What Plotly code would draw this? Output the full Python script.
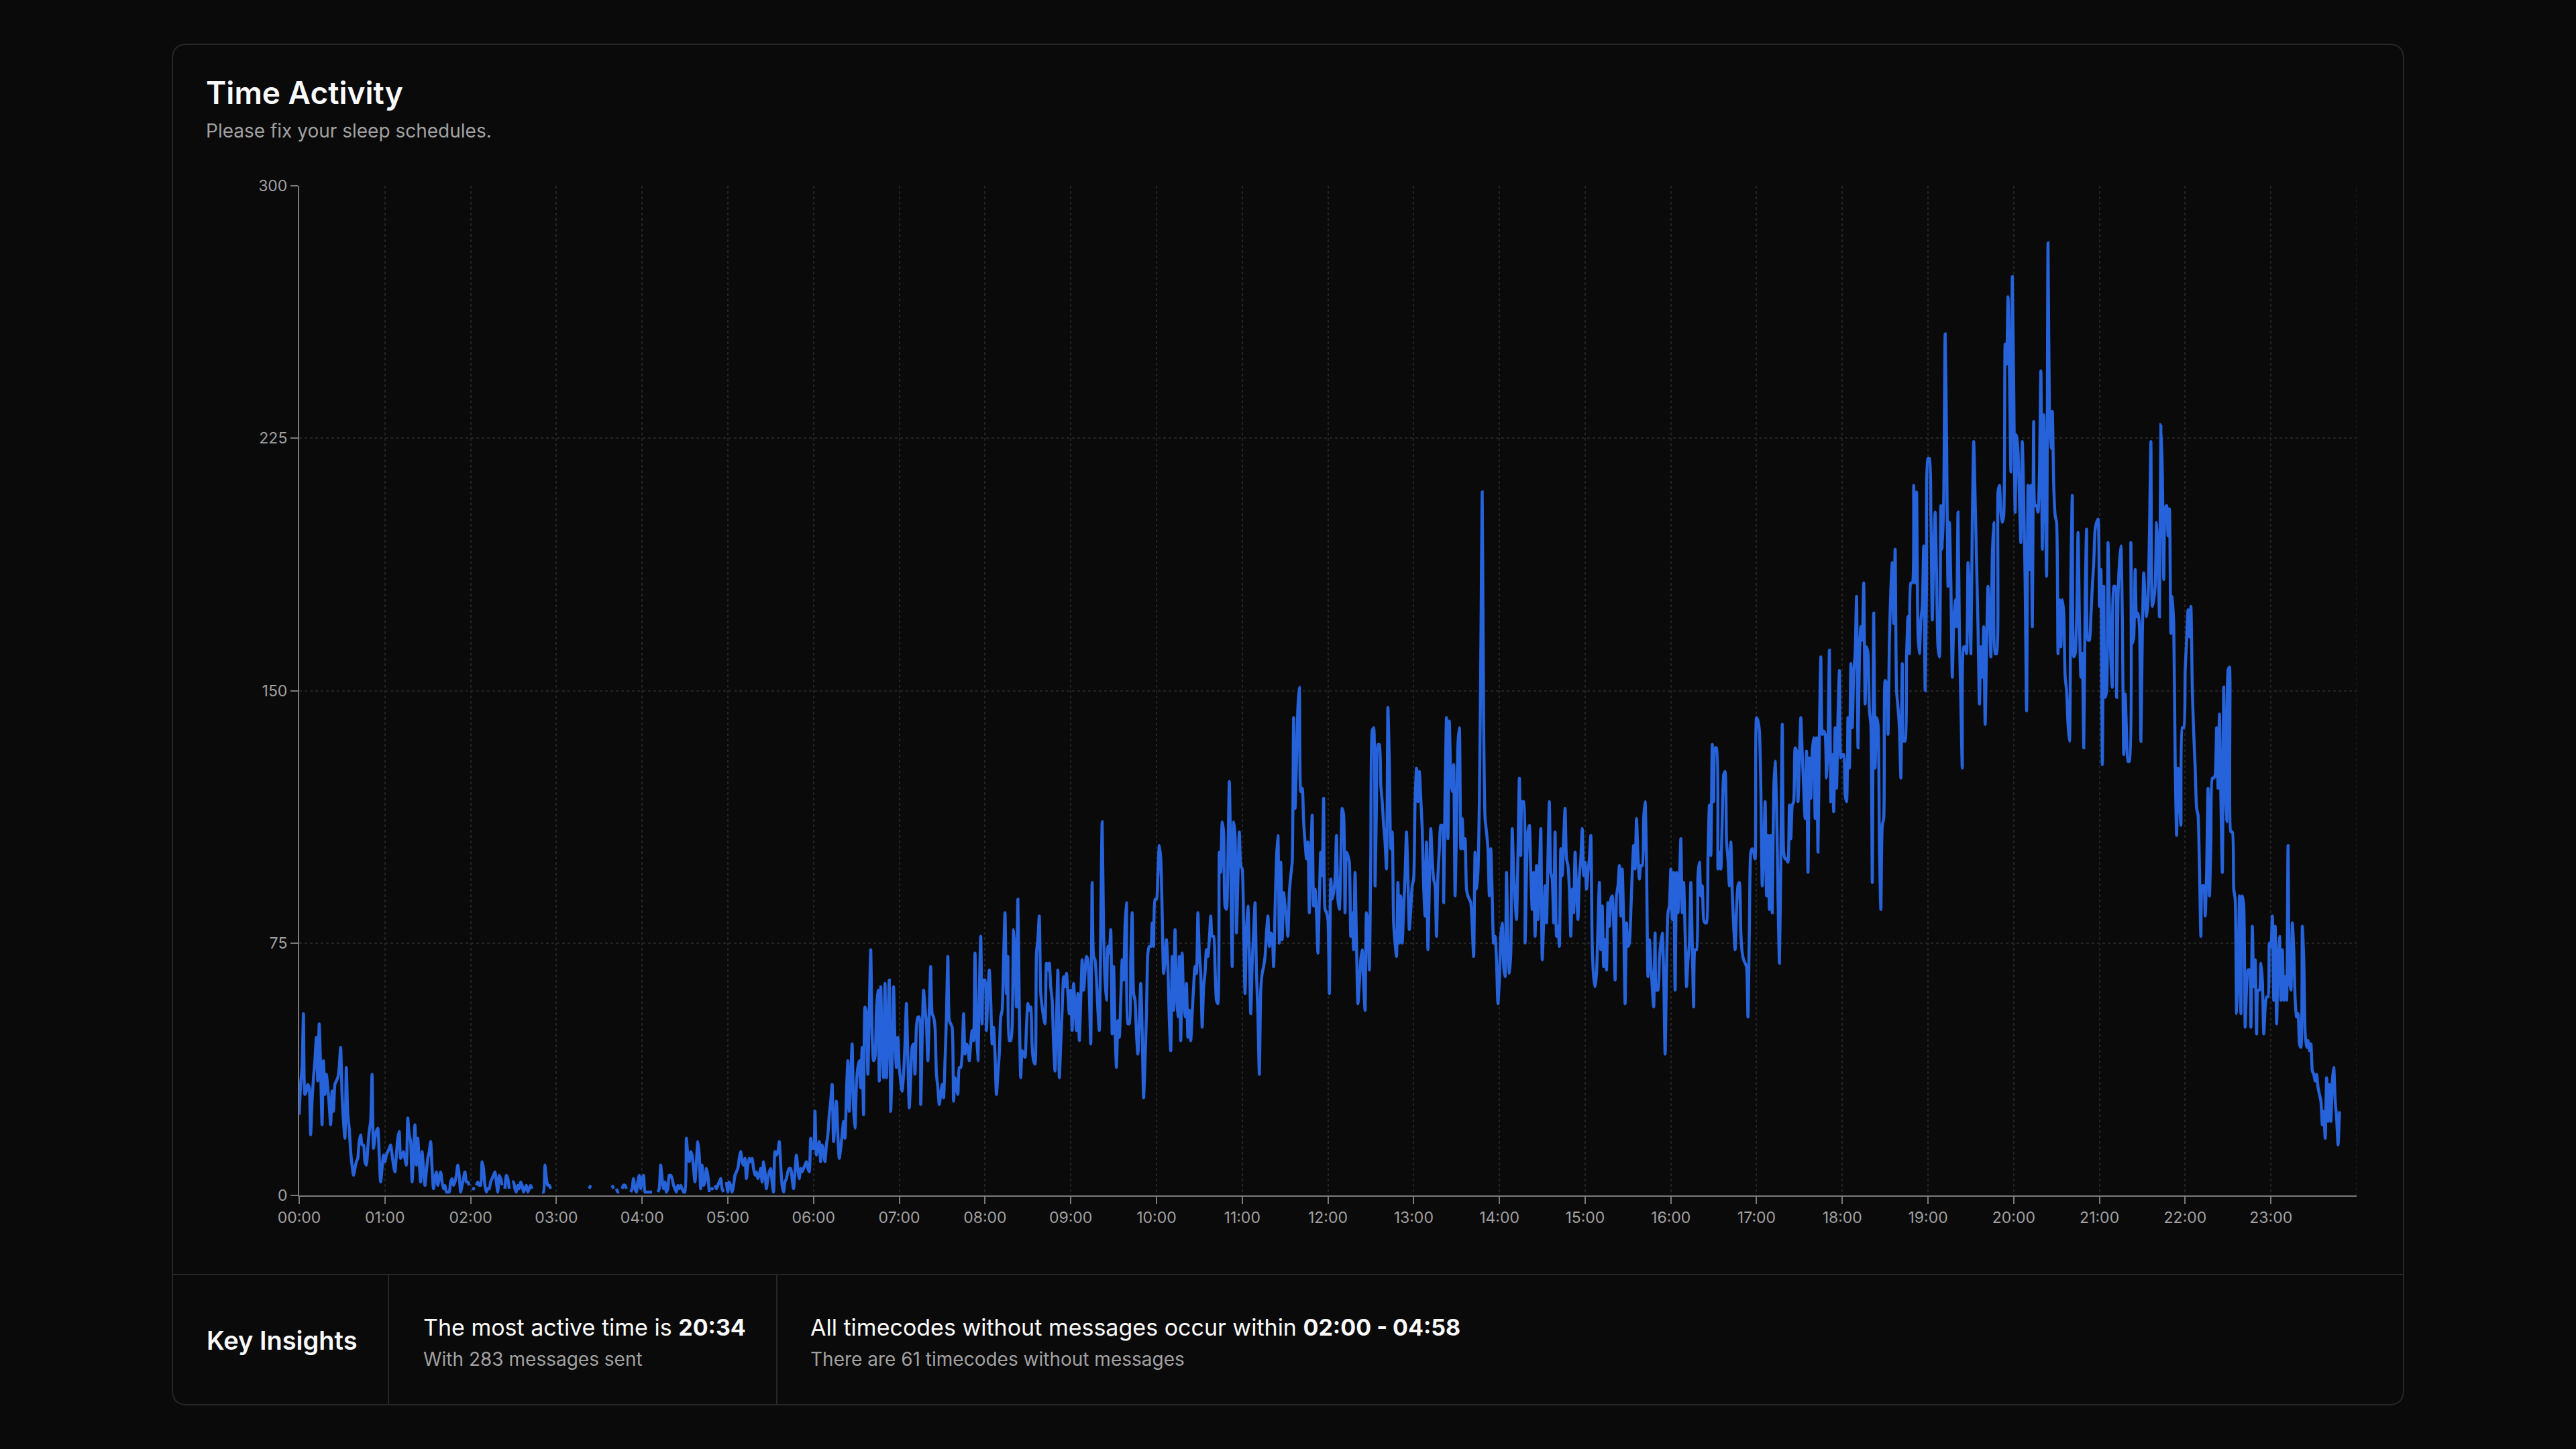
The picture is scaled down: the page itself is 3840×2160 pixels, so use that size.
import plotly.graph_objects as go

N = None

# Messages per minute, one list per hour (index 0 = HH:00)
h00 = [24,33,38,54,30,31,33,32,18,28, 35,40,47,34,51,38,21,40,30,36, 32,27,21,31,25,33,34,35,38,44,
       30,22,17,38,24,20,13,9,6,8, 10,11,16,18,15,15,10,9,14,19, 22,36,14,17,19,20,12,4,8,12]
h01 = [10,12,13,14,15,12,9,7,12,17, 19,11,12,13,11,9,23,18,16,4, 12,21,9,17,10,4,13,8,3,7,
       11,13,16,8,2,5,7,3,5,7, 4,2,3,1,1,1,4,5,3,4, 6,9,6,1,3,5,7,4,4,3]
h02 = [N,N,2,N,3,4,3,3,10,8, 3,1,2,2,4,5,6,7,4,1, 6,5,3,N,2,6,5,2,N,4,
       4,2,1,3,2,4,3,1,2,3, 1,2,3,2,N,N,N,N,N,N, 1,1,9,5,3,3,2,N,N,N]
h03 = [N,N,N,N,N,N,N,N,N,N, N,N,N,N,N,N,N,N,N,N, N,N,N,2,3,N,N,N,N,N,
       N,N,N,N,N,N,N,N,N,3, 2,N,2,1,1,N,2,3,3,2, N,N,1,2,5,2,1,4,6,2]
h04 = [5,6,1,1,1,1,1,1,N,N, N,1,2,9,5,2,4,1,2,6, 6,5,3,2,1,3,2,3,2,1,
       1,17,12,10,13,12,8,4,10,16, 12,2,9,3,4,8,6,1,N,2, N,3,2,3,4,5,2,1,N,4]
h05 = [1,4,3,1,3,6,7,8,11,13, 10,9,11,5,9,11,10,11,8,6, 7,5,6,8,4,10,7,2,5,7,
       8,4,1,13,12,13,16,9,3,1, 4,5,7,8,8,5,2,7,12,8, 5,8,7,8,9,10,8,7,17,14]
h06 = [14,25,12,14,16,10,15,13,10,15, 18,24,28,33,16,22,28,18,11,14, 18,22,17,30,40,25,35,45,26,20,
       33,38,40,32,44,24,56,54,36,55, 73,48,40,41,55,61,34,62,45,35, 63,35,50,64,25,40,62,46,38,47]
h07 = [38,34,31,36,45,57,41,26,35,44, 45,36,50,53,53,27,46,61,56,51, 40,55,68,54,53,50,36,32,27,30,
       33,29,40,53,71,52,51,50,28,35, 32,30,38,38,42,54,42,45,44,40, 45,49,46,72,50,40,60,77,51,64]
h08 = [64,49,60,67,58,45,50,42,30,36, 42,53,55,70,84,60,71,46,46,50, 79,72,56,88,56,35,43,42,41,50,
       57,55,56,44,40,39,72,76,83,60, 56,53,51,69,67,69,62,58,45,37, 52,67,35,45,55,65,62,66,60,54]
h09 = [61,49,63,56,49,60,46,58,70,61, 66,71,70,60,45,93,71,70,64,55, 49,80,111,78,64,58,74,72,79,48,
       68,50,38,52,47,58,70,64,80,87, 51,51,70,84,60,58,48,42,52,63, 49,29,40,54,72,74,74,81,74,88]
h10 = [88,95,104,100,84,66,70,76,68,52, 43,71,55,79,60,53,71,46,72,58, 53,63,47,55,46,54,62,68,66,84,
       72,66,50,62,66,73,71,76,83,77, 77,68,58,57,102,96,111,108,86,85, 100,123,99,68,111,107,78,94,108,98]
h11 = [97,80,60,79,86,72,54,69,78,87, 66,54,36,61,66,68,71,78,83,74, 78,77,68,85,100,107,75,99,76,90,
       86,82,77,90,95,99,142,115,129,145, 151,120,121,111,105,100,105,84,100,113, 86,91,84,72,88,102,95,118,85,84]
h12 = [82,60,94,88,90,94,107,88,85,98, 115,113,84,102,101,99,77,84,73,96, 75,57,63,70,73,63,55,84,81,67,
       101,138,139,92,117,134,134,122,117,110, 105,97,145,128,103,108,81,75,71,93, 75,89,75,85,95,108,94,79,85,92]
h13 = [94,117,127,117,126,118,109,92,83,105, 73,92,109,100,94,92,77,95,103,110, 110,87,120,142,106,141,124,120,128,89,
       110,134,139,103,112,103,106,91,89,88, 87,80,71,102,91,96,117,160,209,140, 112,108,103,89,103,89,75,77,70,57]
h14 = [64,77,81,68,65,96,75,66,72,109, 96,88,82,101,124,101,117,117,75,96, 108,110,96,85,96,77,98,82,95,109,
       70,81,92,81,100,117,96,94,81,108, 77,80,74,103,95,106,115,100,98,91, 77,91,84,102,91,82,95,100,109,95]
h15 = [99,91,96,100,107,74,65,62,66,80, 93,73,86,68,76,67,87,80,88,89, 81,64,89,92,98,83,97,81,57,81,
       74,75,84,96,104,97,112,101,94,98, 98,112,117,98,65,76,69,62,56,78, 61,61,70,75,78,66,42,67,84,86]
h16 = [97,82,96,61,96,84,93,106,84,93, 78,62,70,75,93,75,56,73,73,95, 99,89,92,82,81,81,100,116,101,134,
       117,133,133,97,102,97,112,125,126,105, 100,92,105,90,80,73,85,92,93,78, 72,70,69,68,53,80,102,103,102,100]
h17 = [142,141,138,121,92,102,117,89,107,85, 107,84,120,129,116,89,69,100,140,102, 100,100,99,116,106,116,117,133,132,117,
       130,142,131,121,112,132,96,130,118,132, 136,112,136,102,138,160,137,138,137,124, 134,162,117,131,114,139,121,142,156,130]
h18 = [131,131,119,117,142,127,158,139,155,161, 178,133,160,169,165,182,146,163,161,144, 140,93,173,127,142,140,104,85,110,112,
       153,152,137,165,180,188,170,192,150,145, 139,124,158,135,135,160,172,161,182,182, 211,182,209,167,161,171,175,193,150,182]
h19 = [219,219,203,171,190,203,184,163,160,205, 192,207,256,225,181,200,182,154,170,177, 169,203,167,146,127,163,163,161,188,179,
       161,200,224,207,188,169,146,163,154,169, 140,163,181,173,160,190,200,161,161,209, 211,203,200,202,253,247,267,245,215,273]
h20 = [240,203,226,221,207,194,224,207,182,144, 211,186,211,169,230,205,205,203,215,245, 192,232,211,184,283,232,222,233,211,202,
       200,161,177,163,177,173,154,150,140,135, 184,208,160,161,171,197,171,154,161,133, 177,198,165,165,172,181,188,198,200,201]
h21 = [175,186,128,181,148,150,194,173,159,151, 181,181,148,178,188,193,172,131,149,137, 129,129,194,164,166,186,172,173,169,135,
       166,185,177,172,177,197,224,175,177,181, 200,191,172,229,215,183,204,205,196,204, 167,178,169,129,107,127,118,110,139,139]
h22 = [156,165,174,166,175,150,137,127,115,113, 97,77,92,92,83,96,121,89,105,124, 124,125,139,121,143,118,96,151,123,111,
       156,157,108,108,91,88,54,65,89,54, 89,86,50,62,67,67,50,80,62,70, 48,61,61,69,64,48,56,59,59,75]
h23 = [74,83,58,80,51,70,77,58,73,58, 65,58,104,64,61,81,73,58,53,54, 45,44,80,70,48,44,46,43,45,37,
       36,34,36,32,30,28,21,25,17,35, 22,33,22,34,38,28,23,15,25]

tick_minutes = [0, 60, 120, 180, 240, 300, 360, 420, 480, 540, 600, 660, 720, 780,
                840, 900, 960, 1020, 1080, 1140, 1200, 1260, 1320, 1380]
tick_labels = ["00:00", "01:00", "02:00", "03:00", "04:00", "05:00", "06:00", "07:00",
               "08:00", "09:00", "10:00", "11:00", "12:00", "13:00", "14:00", "15:00",
               "16:00", "17:00", "18:00", "19:00", "20:00", "21:00", "22:00", "23:00"]
y_ticks = [0, 75, 150, 225, 300]

title_text = "Time Activity"
subtitle_text = "Please fix your sleep schedules."
insight_head = "Key Insights"
insight1_main = "The most active time is <b>20:34</b>"
insight1_sub = "With 283 messages sent"
insight2_main = "All timecodes without messages occur within <b>02:00 - 04:58</b>"
insight2_sub = "There are 61 timecodes without messages"

# ---------------------------------------------------------------------------
hours = [h00, h01, h02, h03, h04, h05, h06, h07, h08, h09, h10, h11,
         h12, h13, h14, h15, h16, h17, h18, h19, h20, h21, h22, h23]
values = [v for h in hours for v in h]
minutes = list(range(len(values)))

# points standing alone between gaps are drawn as dots
iso_x, iso_y = [], []
for i, v in enumerate(values):
    if v is None:
        continue
    prev_none = i == 0 or values[i - 1] is None
    next_none = i == len(values) - 1 or values[i + 1] is None
    if prev_none and next_none:
        iso_x.append(minutes[i])
        iso_y.append(v)

W, H = 3840, 2160
PX0, PX1, PY0, PY1 = 446, 3513, 277, 1782   # plot area in pixels


def px(x):
    return (x - PX0) / (PX1 - PX0)


def py(y):
    return (PY1 - y) / (PY1 - PY0)


BLUE = "#2662d9"
BG = "#0a0a0a"
BORDER = "#262626"
GRID = "#242424"
FONT = "Inter"

fig = go.Figure()
fig.add_trace(go.Scatter(
    x=minutes, y=values, mode="lines",
    line=dict(color=BLUE, width=4.5, shape="spline", smoothing=0.6),
    connectgaps=False, hoverinfo="skip", showlegend=False))
fig.add_trace(go.Scatter(
    x=iso_x, y=iso_y, mode="markers",
    marker=dict(color=BLUE, size=5), hoverinfo="skip", showlegend=False))

# card outline with rounded corners
x0, x1, y0, y1, r = 257, 3583, 66, 2094, 22
pts = [("M", x0 + r, y0), ("L", x1 - r, y0), ("Q", x1, y0, x1, y0 + r),
       ("L", x1, y1 - r), ("Q", x1, y1, x1 - r, y1), ("L", x0 + r, y1),
       ("Q", x0, y1, x0, y1 - r), ("L", x0, y0 + r), ("Q", x0, y0, x0 + r, y0)]
path = ""
for p in pts:
    cmd = p[0]
    coords = p[1:]
    seg = []
    for j in range(0, len(coords), 2):
        seg.append(f"{px(coords[j]):.6f},{py(coords[j + 1]):.6f}")
    path += cmd + " " + " ".join(seg) + " "
path += "Z"

shapes = [
    dict(type="path", xref="paper", yref="paper", path=path,
         line=dict(color=BORDER, width=2), fillcolor="rgba(0,0,0,0)", layer="below"),
    dict(type="line", xref="paper", yref="paper", x0=px(257), x1=px(3583), y0=py(1900), y1=py(1900),
         line=dict(color=BORDER, width=2)),
    dict(type="line", xref="paper", yref="paper", x0=px(579), x1=px(579), y0=py(1900), y1=py(2094),
         line=dict(color=BORDER, width=2)),
    dict(type="line", xref="paper", yref="paper", x0=px(1158), x1=px(1158), y0=py(1900), y1=py(2094),
         line=dict(color=BORDER, width=2)),
    dict(type="line", xref="x", yref="y", x0=1440, x1=1440, y0=0, y1=300,
         line=dict(color=GRID, width=1.5, dash="4px,4px"), layer="below"),
]

WHITE = "#fafafa"
MUTED = "#a1a1a1"


def ann(text, x, y, size, color, weight=None):
    f = dict(family=FONT, size=size, color=color)
    if weight:
        f["weight"] = weight
    return dict(text=text, xref="paper", yref="paper", x=px(x), y=py(y),
                xanchor="left", yanchor="middle", showarrow=False, font=f)


annotations = [
    ann(title_text, 305, 138, 46, WHITE, 600),
    ann(subtitle_text, 305, 195, 28, MUTED),
    ann(insight_head, 306, 1998, 38, WHITE, 600),
    ann(insight1_main, 629, 1978, 34, WHITE),
    ann(insight1_sub, 629, 2026, 28, MUTED),
    ann(insight2_main, 1206, 1978, 34, WHITE),
    ann(insight2_sub, 1206, 2026, 28, MUTED),
]

fig.update_layout(
    width=W, height=H,
    margin=dict(l=PX0, r=W - PX1, t=PY0, b=H - PY1, pad=0),
    paper_bgcolor=BG, plot_bgcolor=BG,
    font=dict(family=FONT, color=MUTED),
    shapes=shapes, annotations=annotations,
    showlegend=False,
)
fig.update_xaxes(
    range=[0, 1440], tickmode="array", tickvals=tick_minutes, ticktext=tick_labels,
    showgrid=True, gridcolor=GRID, gridwidth=1.5, griddash="4px,4px",
    showline=True, linecolor="#7a7a7a", linewidth=2,
    ticks="outside", ticklen=11, tickwidth=2, tickcolor="#7a7a7a",
    tickfont=dict(family=FONT, size=23, color=MUTED), zeroline=False,
)
fig.update_yaxes(
    range=[0, 300], tickmode="array", tickvals=y_ticks,
    showgrid=True, gridcolor=GRID, gridwidth=1.5, griddash="4px,4px",
    showline=True, linecolor="#7a7a7a", linewidth=2,
    ticks="outside", ticklen=11, tickwidth=2, tickcolor="#7a7a7a",
    tickfont=dict(family=FONT, size=23, color=MUTED), zeroline=False,
)

fig.write_html(
    "out.html",
    config={"displayModeBar": False},
    post_script="document.body.style.margin='0';document.body.style.background='#0a0a0a';"
                "document.body.style.overflow='hidden';",
)
